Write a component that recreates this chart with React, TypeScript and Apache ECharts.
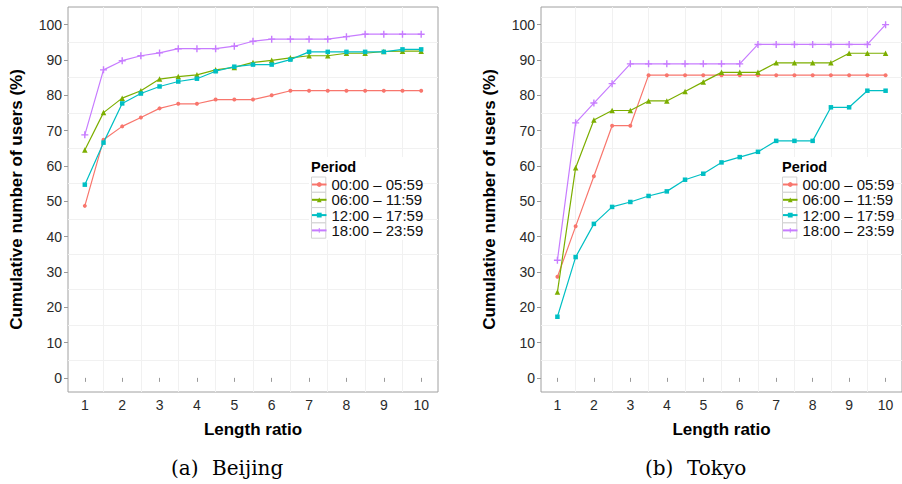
import React, { useEffect, useRef } from "react";
import * as echarts from "echarts";

// ---------- data ----------
const xValues = [1, 1.5, 2, 2.5, 3, 3.5, 4, 4.5, 5, 5.5, 6, 6.5, 7, 7.5, 8, 8.5, 9, 9.5, 10];
const xTicks = [1, 2, 3, 4, 5, 6, 7, 8, 9, 10];
const xMinorLines = [1.5, 2.5, 3.5, 4.5, 5.5, 6.5, 7.5, 8.5, 9.5];
const yTicks = [0, 10, 20, 30, 40, 50, 60, 70, 80, 90, 100];
const yMinorLines = [5, 15, 25, 35, 45, 55, 65, 75, 85, 95];

const periods = ["00:00 \u2013 05:59", "06:00 \u2013 11:59", "12:00 \u2013 17:59", "18:00 \u2013 23:59"];

// Beijing
const bj0005 = [48.7, 67.4, 71.2, 73.7, 76.3, 77.6, 77.6, 78.8, 78.8, 78.8, 80.0, 81.3, 81.3, 81.3, 81.3, 81.3, 81.3, 81.3, 81.3];
const bj0611 = [64.5, 75.1, 79.2, 81.3, 84.6, 85.3, 85.8, 87.2, 87.9, 89.3, 89.9, 90.6, 91.2, 91.2, 91.9, 91.9, 92.4, 92.5, 92.5];
const bj1217 = [54.7, 66.6, 77.7, 80.5, 82.5, 83.9, 84.7, 86.8, 88.1, 88.7, 88.7, 90.1, 92.3, 92.3, 92.3, 92.3, 92.3, 93.0, 93.0];
const bj1823 = [68.8, 87.2, 89.8, 91.2, 92.0, 93.2, 93.2, 93.2, 93.9, 95.3, 95.9, 95.9, 95.9, 95.9, 96.6, 97.3, 97.3, 97.3, 97.3];

// Tokyo
const tk0005 = [28.6, 42.9, 57.1, 71.4, 71.4, 85.7, 85.7, 85.7, 85.7, 85.7, 85.7, 85.7, 85.7, 85.7, 85.7, 85.7, 85.7, 85.7, 85.7];
const tk0611 = [24.3, 59.5, 73.0, 75.7, 75.7, 78.4, 78.4, 81.1, 83.8, 86.5, 86.5, 86.5, 89.2, 89.2, 89.2, 89.2, 91.9, 91.9, 91.9];
const tk1217 = [17.3, 34.2, 43.6, 48.4, 49.8, 51.5, 52.8, 56.1, 57.8, 61.0, 62.5, 64.0, 67.1, 67.1, 67.1, 76.6, 76.6, 81.3, 81.3];
const tk1823 = [33.3, 72.2, 77.8, 83.3, 88.9, 88.9, 88.9, 88.9, 88.9, 88.9, 88.9, 94.4, 94.4, 94.4, 94.4, 94.4, 94.4, 94.4, 100];

const beijing = [bj0005, bj0611, bj1217, bj1823];
const tokyo = [tk0005, tk0611, tk1217, tk1823];

// ---------- styles ----------
const COLORS = ["#F8766D", "#7CAE00", "#00BFC4", "#C77CFF"];
const PLUS = "path://M0,2H5V3H0Z M2,0H3V5H2Z";
const SYMBOLS = ["circle", "triangle", "rect", PLUS];
const SYMBOL_SIZES = [4, 5.5, 4.5, 7];
const SANS = "'Liberation Sans', Arial, Helvetica, sans-serif";
const SERIF = "'DejaVu Serif', 'Liberation Serif', serif";

const X_MIN = 0.55;
const X_MAX = 10.45;
const Y_MIN = -4;
const Y_MAX = 105;

function mainX(gridIndex: number) {
  return {
    type: "value",
    gridIndex,
    min: X_MIN,
    max: X_MAX,
    axisLine: { show: false },
    axisTick: { show: true, customValues: xTicks, length: 4, lineStyle: { color: "#9a9a9a", width: 1 } },
    axisLabel: { show: true, customValues: xTicks, fontSize: 14, color: "#2a2a2a", fontFamily: SANS, margin: 6 },
    splitLine: { show: false },
    name: "Length ratio",
    nameLocation: "middle",
    nameGap: 29,
    nameTextStyle: { fontSize: 17, fontWeight: "bold", color: "#000", fontFamily: SANS },
  };
}
function minorX(gridIndex: number) {
  return {
    type: "value",
    gridIndex,
    min: X_MIN,
    max: X_MAX,
    axisLine: { show: false },
    axisTick: { show: false, customValues: xMinorLines },
    axisLabel: { show: false },
    splitLine: { show: true, lineStyle: { color: "#f1f1f1", width: 1 } },
  };
}
function mainY(gridIndex: number) {
  return {
    type: "value",
    gridIndex,
    min: Y_MIN,
    max: Y_MAX,
    axisLine: { show: false },
    axisTick: { show: true, customValues: yTicks, length: 4, lineStyle: { color: "#9a9a9a", width: 1 } },
    axisLabel: { show: true, customValues: yTicks, fontSize: 14, color: "#2a2a2a", fontFamily: SANS, margin: 6 },
    splitLine: { show: false },
    name: "Cumulative number of users (%)",
    nameLocation: "middle",
    nameGap: 43,
    nameTextStyle: { fontSize: 17, fontWeight: "bold", color: "#000", fontFamily: SANS },
  };
}
function minorY(gridIndex: number) {
  return {
    type: "value",
    gridIndex,
    min: Y_MIN,
    max: Y_MAX,
    axisLine: { show: false },
    axisTick: { show: false, customValues: yMinorLines },
    axisLabel: { show: false },
    splitLine: { show: true, lineStyle: { color: "#f1f1f1", width: 1 } },
  };
}

function makeSeries(city: number[][], axisIndex: number) {
  return city.map((vals, i) => ({
    type: "line",
    name: periods[i],
    xAxisIndex: axisIndex,
    yAxisIndex: axisIndex,
    data: vals.map((v, k) => [xValues[k], v]),
    symbol: SYMBOLS[i],
    symbolSize: SYMBOL_SIZES[i],
    showAllSymbol: true,
    color: COLORS[i],
    lineStyle: { color: COLORS[i], width: 1.2 },
    itemStyle: { color: COLORS[i] },
    emphasis: { disabled: true },
    z: 2 + i * 0.01,
  }));
}

function legendBlock(x: number) {
  const els: any[] = [];
  els.push({ type: "rect", z: 1, silent: true, shape: { x: x - 2, y: 157, width: 112, height: 83 }, style: { fill: "#ffffff" } });
  for (let i = 0; i < periods.length; i++) {
    els.push({
      type: "rect",
      z: 3,
      silent: true,
      shape: { x: x + 0.5, y: 177 + i * 15.3, width: 14.3, height: 15.3 },
      style: { fill: "#ffffff", stroke: "#d2d2d2", lineWidth: 1 },
    });
  }
  els.push({
    type: "text",
    z: 5,
    silent: true,
    x: x,
    y: 167,
    style: { text: "Period", fontSize: 14.5, fontWeight: "bold", fontFamily: SANS, fill: "#000", verticalAlign: "middle", align: "left" },
  });
  return els;
}

function legendOpt(x: number) {
  return {
    orient: "vertical",
    left: x,
    top: 177,
    padding: 0,
    itemWidth: 14.5,
    itemHeight: 6,
    itemGap: 0.3,
    itemTextGap: 3,
    selectedMode: false,
    data: periods,
    textStyle: { fontSize: 15, lineHeight: 15, color: "#111", fontFamily: SANS },
  };
}

export default function App() {
  const ref = useRef<HTMLDivElement>(null);
  useEffect(() => {
    if (!ref.current) return;
    const chart = echarts.init(ref.current, undefined, { renderer: "svg" });
    chart.setOption({
      animation: false,
      backgroundColor: "#ffffff",
      grid: [
        { left: 68, top: 7, width: 370, height: 385, show: true, borderColor: "#a0a0a0", borderWidth: 1, backgroundColor: "transparent" },
        { left: 541, top: 7, width: 370, height: 385, show: true, borderColor: "#a0a0a0", borderWidth: 1, backgroundColor: "transparent" },
      ],
      xAxis: [mainX(0), minorX(0), mainX(1), minorX(1)],
      yAxis: [mainY(0), minorY(0), mainY(1), minorY(1)],
      legend: [legendOpt(311), legendOpt(782)],
      series: [...makeSeries(beijing, 0), ...makeSeries(tokyo, 2)],
      graphic: [
        ...legendBlock(311),
        ...legendBlock(782),
        { type: "text", silent: true, x: 171, y: 468, style: { text: "(a)", fontSize: 20, fontFamily: SERIF, fill: "#000", verticalAlign: "middle" } },
        { type: "text", silent: true, x: 212, y: 468, style: { text: "Beijing", fontSize: 20, fontFamily: SERIF, fill: "#000", verticalAlign: "middle" } },
        { type: "text", silent: true, x: 645, y: 468, style: { text: "(b)", fontSize: 20, fontFamily: SERIF, fill: "#000", verticalAlign: "middle" } },
        { type: "text", silent: true, x: 687, y: 468, style: { text: "Tokyo", fontSize: 20, fontFamily: SERIF, fill: "#000", verticalAlign: "middle" } },
      ],
    });
    return () => chart.dispose();
  }, []);
  return <div ref={ref} style={{ position: "fixed", left: 0, top: 0, width: 902, height: 484 }} />;
}
